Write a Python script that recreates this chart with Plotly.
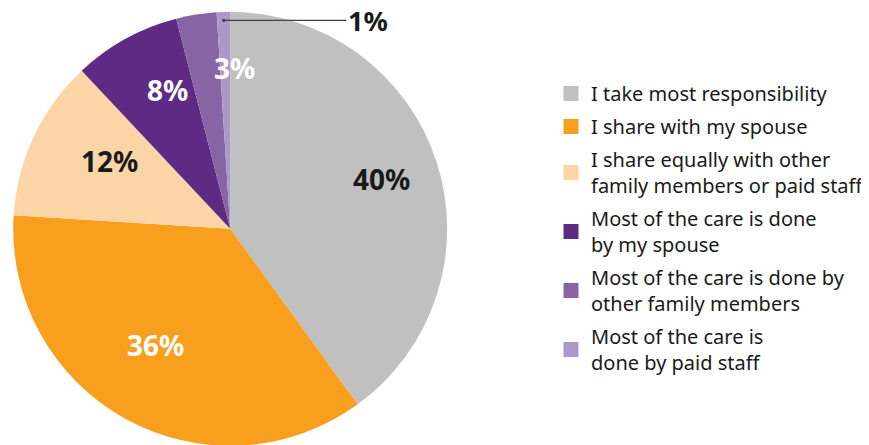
import math
import plotly.graph_objects as go

labels = [
    "I take most responsibility",
    "I share with my spouse",
    "I share equally with other<br>family members or paid staff",
    "Most of the care is done<br>by my spouse",
    "Most of the care is done by<br>other family members",
    "Most of the care is<br>done by paid staff",
]
values = [40, 36, 12, 8, 3, 1]
colors = ["#C0C0C0", "#F99F1E", "#FBD5A6", "#5E2A84", "#8764A3", "#AD98C9"]
label_colors = ["#1a1a1a", "white", "#1a1a1a", "white", "white", "#1a1a1a"]
label_radius = [0.733, 0.79, 0.763, 0.828, 0.834, None]
label_angle_shift = [0, 9, -1.25, 0.5, 3.3, 0]

# the page body has an 8px margin, so the figure is drawn 8px in from the window
OFF = 8
W, H = 869 - OFF, 445
cx, cy, R = 232.8 - OFF, 228.8 - OFF, 219.5
FONT = "Noto Sans"

fig = go.Figure()
fig.add_trace(go.Pie(
    values=values, labels=labels, sort=False, direction="clockwise", rotation=0,
    marker=dict(colors=colors, line=dict(width=0)),
    textinfo="none", hoverinfo="label+percent", showlegend=False,
    domain=dict(x=[(cx - R) / W, (cx + R) / W], y=[1 - (cy + R) / H, 1 - (cy - R) / H]),
))

for lab, col in zip(labels, colors):
    fig.add_trace(go.Scatter(
        x=[None], y=[None], mode="markers", name=lab, legendgroup=lab,
        marker=dict(symbol="square", size=15, color=col),
    ))

total = sum(values)
cum = 0
for i, v in enumerate(values):
    mid = (cum + v / 2) / total * 360
    cum += v
    txt = f"{round(v / total * 100)}%"
    if label_radius[i] is None:
        a = math.radians(mid)
        hx = cx + 0.95 * R * math.sin(a)
        hy = cy - 0.95 * R * math.cos(a)
        fig.add_annotation(
            x=hx / W, y=1 - hy / H, xref="paper", yref="paper",
            text=f"<b>{txt}</b>", showarrow=True, arrowhead=6, arrowsize=0.7,
            arrowwidth=1.1, arrowcolor="#404040", ax=(349 - OFF) - hx, ay=0,
            xanchor="left", font=dict(family=FONT, size=27, color=label_colors[i]),
        )
    else:
        a = math.radians(mid + label_angle_shift[i])
        r = label_radius[i] * R
        px = cx + r * math.sin(a)
        py = cy - r * math.cos(a)
        fig.add_annotation(
            x=px / W, y=1 - py / H, xref="paper", yref="paper",
            text=f"<b>{txt}</b>", showarrow=False,
            font=dict(family=FONT, size=28, color=label_colors[i]),
        )

fig.update_layout(
    width=W, height=H, margin=dict(l=0, r=0, t=0, b=0),
    paper_bgcolor="white", plot_bgcolor="white",
    xaxis=dict(visible=False), yaxis=dict(visible=False),
    font=dict(family=FONT, size=20, color="#1a1a1a"),
    legend=dict(x=549.5 / W, xanchor="left", y=1 - 66 / H, yanchor="top",
                tracegroupgap=4, font=dict(family=FONT, size=20),
                bgcolor="rgba(0,0,0,0)"),
)
fig.write_html("out.html")
